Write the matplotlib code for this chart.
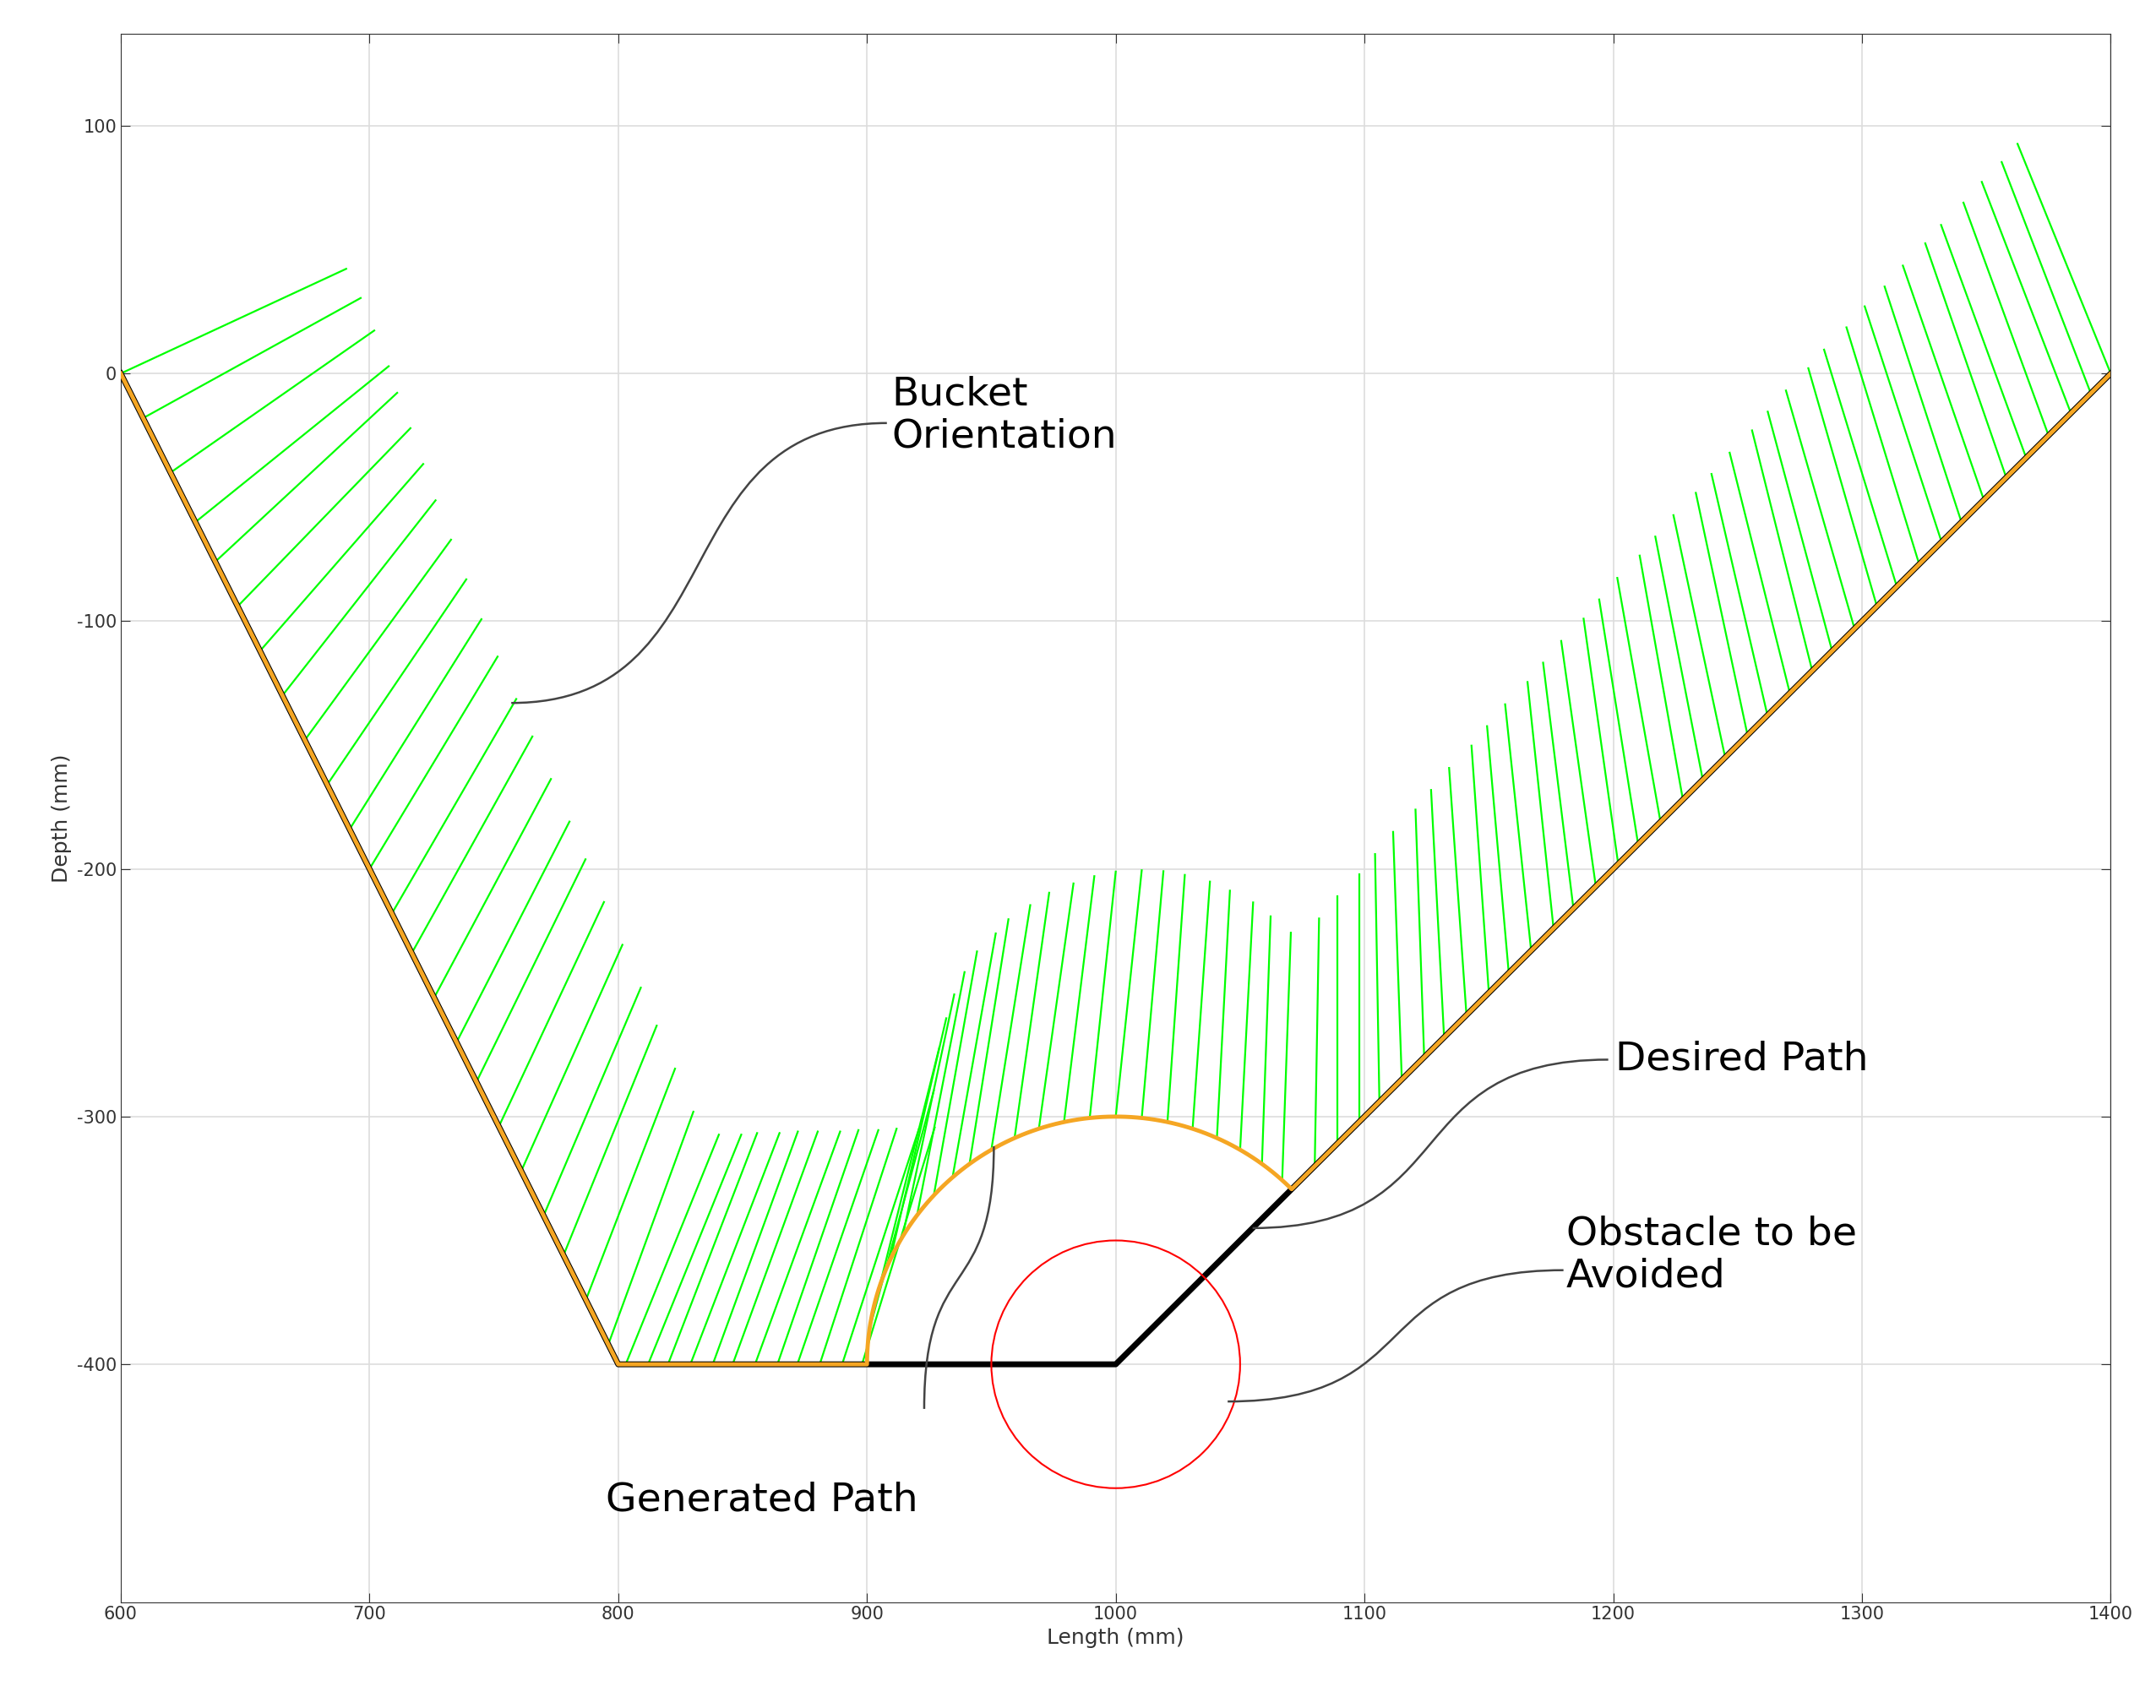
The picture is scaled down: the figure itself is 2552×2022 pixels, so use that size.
import numpy as np
import matplotlib
matplotlib.use("Agg")
import matplotlib.pyplot as plt
from matplotlib.path import Path
from matplotlib.patches import PathPatch, Circle

plt.rcParams['axes.unicode_minus'] = False

# Desired path vertices
desired_x = [600, 800, 1000, 1400]
desired_y = [0, -400, -400, 0]
# Obstacle
obs_cx, obs_cy, obs_r = 1000, -400, 50
# Generated path: lines + arc around (1000,-400) r=100
arc_cx, arc_cy, arc_r = 1000, -400, 100

# Bucket orientation lines: base x per segment and angle (deg)
left_x = [600, 609, 620, 630, 638, 647, 656, 665, 674, 683, 692, 700, 709, 717, 726, 735, 743, 752, 761, 770, 778, 787, 796]
left_ang = [25, 29, 35, 39, 43, 46, 49, 52, 54, 56, 58, 59, 60, 61, 62, 63, 64, 65, 66, 67, 68, 69, 70]
flat_x = [803, 812, 820, 829, 838, 846, 855, 864, 872, 881, 890, 898]
flat_ang = [68, 68, 69, 69, 70, 70, 70, 71, 71, 72, 72, 73]
arc_deg = [172, 162, 155, 149, 143, 137, 131, 126, 120, 114, 108, 102, 96, 90, 84, 78, 72, 66, 60, 54, 48]
arc_ang = [75, 76, 77, 78, 79, 80, 80, 81, 81, 82, 82, 83, 84, 84, 85, 86, 86, 87, 87, 88, 88]
right_x = [1080, 1089, 1098, 1106, 1115, 1124, 1132, 1141, 1150, 1158, 1167, 1176, 1184, 1193, 1202,
           1210, 1219, 1228, 1236, 1245, 1254, 1262, 1271, 1280, 1288, 1297, 1306, 1314, 1323,
           1332, 1340, 1349, 1358, 1366, 1375, 1384, 1392, 1400]
right_ang = [89, 90, 90, 91, 92, 92, 93, 94, 94, 95, 96, 96, 97, 98, 98, 99, 100, 100, 101, 102, 102,
             103, 104, 104, 105, 106, 106, 107, 107, 108, 108, 109, 109, 110, 110, 111, 111, 112]
seg_len = 100

fig = plt.figure(figsize=(25.52, 20.22), dpi=100)
ax = fig.add_axes([0.056, 0.062, 0.923, 0.918])

def draw_lines(bx, by, angs):
    for x0, y0, a in zip(bx, by, angs):
        r = np.deg2rad(a)
        ax.plot([x0, x0 + seg_len*np.cos(r)], [y0, y0 + seg_len*np.sin(r)], color='#00ff00', lw=1.6, zorder=2)

lx = np.array(left_x); draw_lines(lx, -2*(lx-600), left_ang)
fx = np.array(flat_x); draw_lines(fx, np.full(len(fx), -400), flat_ang)
t = np.deg2rad(arc_deg); draw_lines(arc_cx+arc_r*np.cos(t), arc_cy+arc_r*np.sin(t), arc_ang)
rx = np.array(right_x); draw_lines(rx, rx-1400, right_ang)

ax.plot(desired_x, desired_y, color='black', lw=5, zorder=3)
tt = np.linspace(np.pi, np.pi/4, 200)
gx = np.concatenate([[600, 800, 900], arc_cx+arc_r*np.cos(tt), [1400]])
gy = np.concatenate([[0, -400, -400], arc_cy+arc_r*np.sin(tt), [0]])
ax.plot(gx, gy, color='#f5a623', lw=3.5, zorder=4)
ax.add_patch(Circle((obs_cx, obs_cy), obs_r, fill=False, ec='red', lw=1.5, zorder=3))

def sconn(p0, p1, horiz=True):
    (x0, y0), (x1, y1) = p0, p1
    if horiz:
        dx = x1-x0
        c1, c2 = (x0+dx*0.6, y0), (x1-dx*0.6, y1)
    else:
        dy = y1-y0
        c1, c2 = (x0, y0+dy*0.6), (x1, y1-dy*0.6)
    ax.add_patch(PathPatch(Path([p0, c1, c2, p1], [1, 4, 4, 4]), fill=False, ec='#444444', lw=1.8, zorder=5))

sconn((757, -133), (908, -20))
sconn((1055, -345), (1198, -277))
sconn((1045, -415), (1180, -362))
sconn((923, -418), (951, -312), horiz=False)

fs = 34
ax.text(910, -17, "Bucket\nOrientation", fontsize=fs, va='center', linespacing=1.15)
ax.text(1201, -277, "Desired Path", fontsize=fs, va='center')
ax.text(1181, -356, "Obstacle to be\nAvoided", fontsize=fs, va='center', linespacing=1.15)
ax.text(795, -455, "Generated Path", fontsize=fs, va='center')

ax.set_xlim(600, 1400)
ax.set_ylim(-496, 137)
ax.set_xticks(range(600, 1401, 100))
ax.set_yticks(range(-400, 101, 100))
ax.grid(True, color='#dddddd', lw=1.2)
ax.set_axisbelow(True)
ax.tick_params(direction='in', top=True, right=True, labelsize=15, length=8, colors='#333333')
ax.set_xlabel("Length (mm)", fontsize=18, color='#333333')
ax.set_ylabel("Depth (mm)", fontsize=18, color='#333333')
for s in ax.spines.values():
    s.set_color('#333333')
fig.savefig("out.png", dpi=100)
